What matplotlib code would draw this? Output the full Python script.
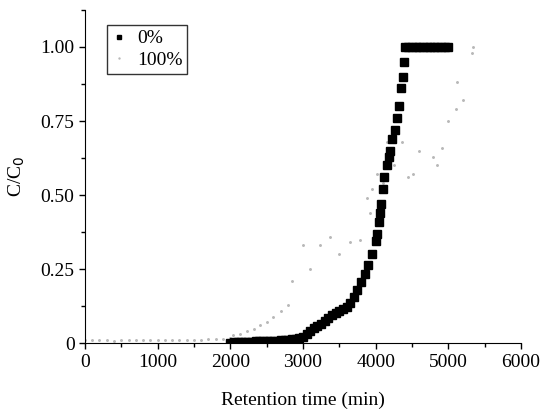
import matplotlib.pyplot as plt
from matplotlib.ticker import MultipleLocator, FixedLocator

plt.rcParams['font.family'] = ['Liberation Serif', 'DejaVu Serif']

# 0% series (black squares)
t0 = [2000, 2050, 2100, 2150, 2200, 2250, 2300, 2350, 2400, 2450, 2500, 2550, 2600, 2650,
      2700, 2750, 2800, 2850, 2900, 2950, 3000, 3050, 3100, 3150, 3200, 3250, 3300, 3350,
      3400, 3450, 3500, 3550, 3600, 3650, 3700, 3750, 3800, 3850, 3900, 3950, 4000, 4020,
      4040, 4060, 4080, 4100, 4120, 4150, 4180, 4200, 4230, 4260, 4290, 4320, 4350, 4370,
      4390, 4400, 4450, 4500, 4550, 4600, 4650, 4700, 4750, 4800, 4850, 4900, 4950, 5000]
c0 = [0.002, 0.003, 0.003, 0.004, 0.004, 0.005, 0.005, 0.006, 0.006, 0.007, 0.007, 0.008, 0.008, 0.009,
      0.010, 0.011, 0.012, 0.013, 0.015, 0.018, 0.022, 0.030, 0.040, 0.050, 0.058, 0.066, 0.074, 0.085,
      0.095, 0.102, 0.108, 0.114, 0.122, 0.135, 0.155, 0.180, 0.205, 0.235, 0.265, 0.300, 0.345, 0.370,
      0.410, 0.440, 0.470, 0.520, 0.560, 0.600, 0.630, 0.650, 0.690, 0.720, 0.760, 0.800, 0.860, 0.900,
      0.950, 1.000, 1.000, 1.000, 1.000, 1.000, 1.000, 1.000, 1.000, 1.000, 1.000, 1.000, 1.000, 1.000]

# 100% series (faint grey dots)
t100 = [0, 100, 200, 300, 400, 500, 600, 700, 800, 900, 1000, 1100, 1200, 1300, 1400, 1500,
        1600, 1700, 1800, 1900, 2000, 2040, 2130, 2230, 2320, 2410, 2500, 2590, 2700, 2790,
        2850, 3000, 3100, 3230, 3370, 3500, 3650, 3780, 3880, 3920, 3950, 4020, 4100, 4150,
        4250, 4360, 4450, 4510, 4600, 4790, 4850, 4910, 4990, 5100, 5120, 5200, 5320, 5340]
c100 = [0.010, 0.010, 0.011, 0.010, 0.009, 0.010, 0.011, 0.010, 0.010, 0.011, 0.010, 0.010, 0.011, 0.010,
        0.012, 0.011, 0.012, 0.013, 0.014, 0.015, 0.018, 0.027, 0.032, 0.040, 0.048, 0.060, 0.070, 0.090,
        0.110, 0.130, 0.210, 0.330, 0.250, 0.330, 0.360, 0.300, 0.340, 0.350, 0.490, 0.440, 0.520, 0.570,
        0.540, 0.680, 0.600, 0.680, 0.560, 0.570, 0.650, 0.630, 0.600, 0.660, 0.750, 0.790, 0.880, 0.820,
        0.980, 1.000]

fig = plt.figure(figsize=(5.41, 4.13), dpi=100)
ax = fig.add_axes([0.157, 0.169, 0.806, 0.807])

ax.plot(t100, c100, linestyle='none', marker='.', markersize=2.2, color='#b8b8b8', label='100%')
ax.plot(t0, c0, linestyle='none', marker='s', markersize=5.5, color='black', label='0%')

ax.set_xlim(0, 6000)
ax.set_ylim(0, 1.125)
ax.xaxis.set_major_locator(MultipleLocator(1000))
ax.xaxis.set_minor_locator(MultipleLocator(500))
ax.yaxis.set_major_locator(FixedLocator([0, 0.25, 0.5, 0.75, 1.0]))
ax.yaxis.set_minor_locator(MultipleLocator(0.125))
ax.set_yticklabels(['0', '0.25', '0.50', '0.75', '1.00'])
ax.tick_params(which='both', direction='out', labelsize=14, width=1)
ax.tick_params(which='major', length=4)
ax.tick_params(which='minor', length=3)
ax.spines['top'].set_visible(False)
ax.spines['right'].set_visible(False)

ax.set_xlabel('Retention time (min)', fontsize=14, labelpad=15)
ax.set_ylabel('C/C$_0$', fontsize=14, labelpad=10)

h, l = ax.get_legend_handles_labels()
leg = ax.legend(h[::-1], l[::-1], loc='upper left', bbox_to_anchor=(0.05, 0.955), fontsize=14,
                frameon=True, fancybox=False, edgecolor='black', handlelength=0.8,
                handletextpad=0.5, borderpad=0.25, labelspacing=0.2, markerscale=0.65,
                borderaxespad=0)
leg.get_frame().set_linewidth(1)

plt.savefig('out.png', dpi=100)
